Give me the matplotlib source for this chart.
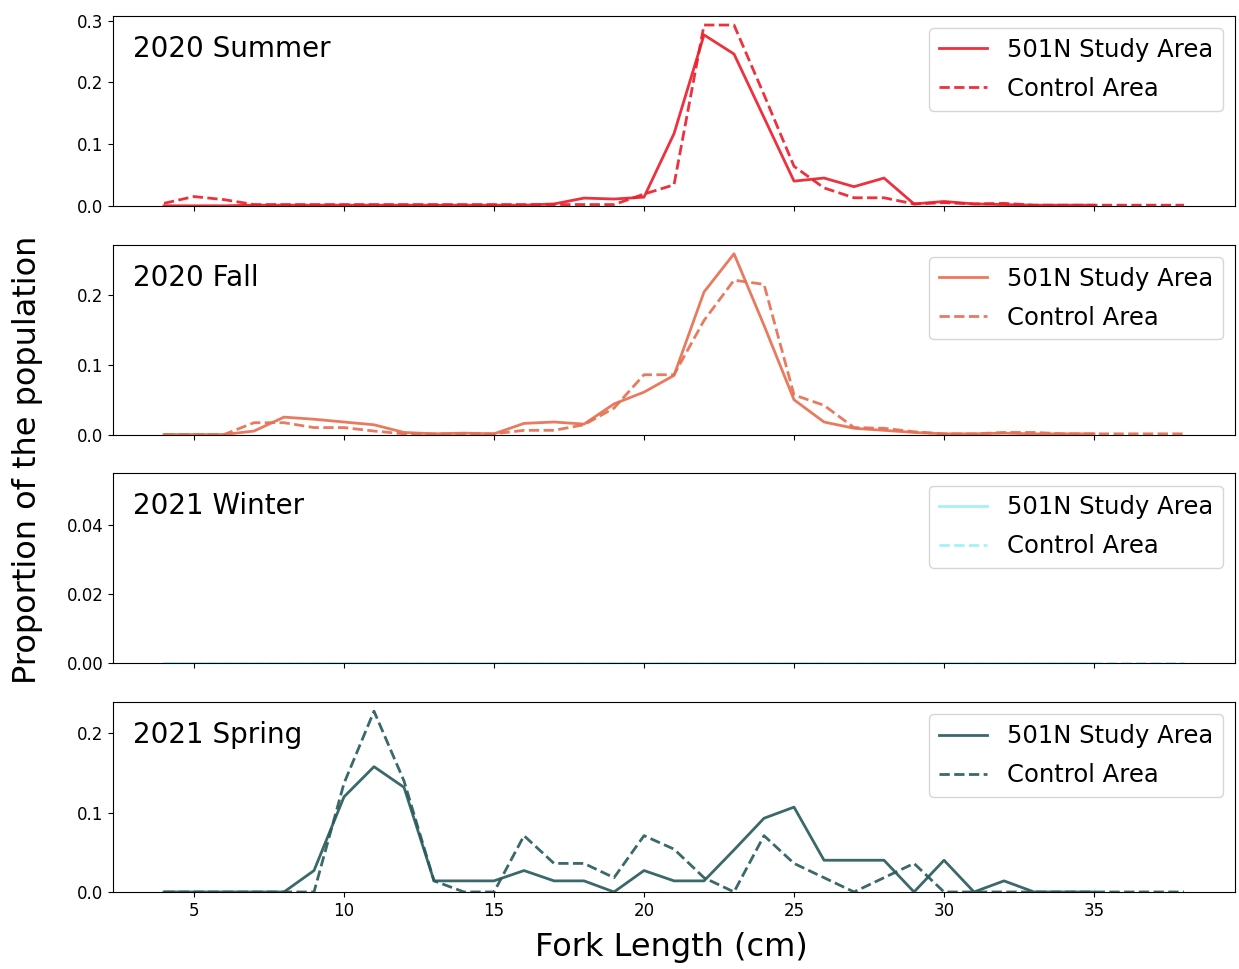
import matplotlib
matplotlib.use("Agg")
import matplotlib.pyplot as plt
from matplotlib.ticker import MultipleLocator

# fork length bins (cm)
x_study = list(range(4, 36))
x_control = list(range(4, 39))

seasons = ["2020 Summer", "2020 Fall", "2021 Winter", "2021 Spring"]
colors = ["#ec1f2c", "#e76f51", "#9af2f6", "#2a5c5c"]

summer_study = [0, 0, 0, 0.001, 0.001, 0.001, 0.001, 0.001, 0.001, 0.001, 0.001, 0.001, 0.001,
                0.003, 0.0125, 0.011, 0.014, 0.117, 0.277, 0.246, 0.143, 0.040, 0.045, 0.031,
                0.045, 0.003, 0.007, 0.003, 0.002, 0.001, 0.001, 0.001]
summer_control = [0.004, 0.015, 0.010, 0.002, 0.002, 0.002, 0.002, 0.002, 0.002, 0.002, 0.002,
                  0.002, 0.002, 0.002, 0.002, 0.002, 0.019, 0.034, 0.293, 0.293, 0.180, 0.064,
                  0.029, 0.013, 0.013, 0.003, 0.005, 0.003, 0.004, 0.001, 0.001, 0.001, 0.001,
                  0.001, 0.001]

fall_study = [0, 0, 0, 0.005, 0.025, 0.022, 0.018, 0.014, 0.003, 0.001, 0.002, 0.001, 0.016,
              0.018, 0.015, 0.044, 0.061, 0.085, 0.205, 0.260, 0.157, 0.050, 0.018, 0.009,
              0.006, 0.003, 0.001, 0.001, 0.002, 0.001, 0.001, 0.001]
fall_control = [0, 0, 0, 0.017, 0.017, 0.010, 0.010, 0.005, 0.001, 0.001, 0.001, 0.001, 0.006,
                0.006, 0.014, 0.038, 0.086, 0.086, 0.164, 0.222, 0.216, 0.057, 0.042, 0.010,
                0.009, 0.004, 0.001, 0.001, 0.003, 0.003, 0.001, 0.001, 0.001, 0.001, 0.001]

winter_study = [0.0] * len(x_study)
winter_control = [0.0] * len(x_control)

spring_study = [0, 0, 0, 0, 0, 0.027, 0.120, 0.158, 0.132, 0.014, 0.014, 0.014, 0.027, 0.014,
                0.014, 0, 0.027, 0.014, 0.014, 0.053, 0.093, 0.107, 0.040, 0.040, 0.040, 0,
                0.040, 0, 0.014, 0, 0, 0]
spring_control = [0, 0, 0, 0, 0, 0, 0.137, 0.228, 0.140, 0.014, 0, 0, 0.071, 0.036, 0.036,
                  0.018, 0.071, 0.054, 0.018, 0, 0.071, 0.036, 0.018, 0, 0.018, 0.036, 0,
                  0, 0, 0, 0, 0, 0, 0, 0]

study = [summer_study, fall_study, winter_study, spring_study]
control = [summer_control, fall_control, winter_control, spring_control]

fig, axes = plt.subplots(4, 1, figsize=(12.39, 9.69), dpi=100, sharex=True)
fig.subplots_adjust(left=0.0912, right=0.9968, top=0.9835, bottom=0.0795, hspace=0.205)

for i, (ax, season, c, s, k) in enumerate(zip(axes, seasons, colors, study, control)):
    ax.plot(x_study, s, color=c, lw=2, alpha=0.92, label="501N Study Area")
    ax.plot(x_control, k, color=c, lw=2, ls="--", alpha=0.92, label="Control Area")
    ax.set_ylim(bottom=0)
    if i != 2:
        ax.yaxis.set_major_locator(MultipleLocator(0.1))
    ax.text(0.018, 0.9, season, transform=ax.transAxes, fontsize=20, va="top", ha="left")
    ax.legend(loc="upper right", fontsize=17.5, labelspacing=0.62)
    ax.tick_params(labelsize=12)

axes[-1].set_xticks([5, 10, 15, 20, 25, 30, 35])
fig.text(0.022, 0.525, "Proportion of the population", rotation=90, fontsize=23,
         ha="center", va="center")
fig.text(0.5416, 0.022, "Fork Length (cm)", fontsize=23, ha="center", va="center")

fig.savefig("out.png", dpi=100)
